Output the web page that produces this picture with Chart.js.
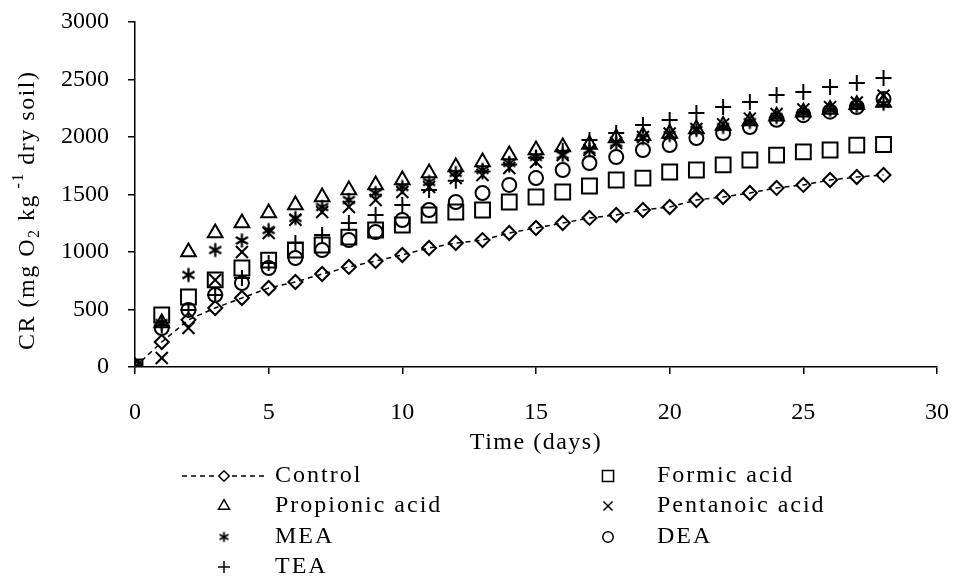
<!DOCTYPE html>
<html>
<head>
<meta charset="utf-8">
<script src="https://cdn.jsdelivr.net/npm/chart.js@4"></script>
<style>
html, body { margin: 0; padding: 0; background: #fff; }
#wrap { width: 954px; height: 583px; }
</style>
</head>
<body>
<div id="wrap"><canvas id="c"></canvas></div>
<script>
// time axis (days)
const days = [0, 1, 2, 3, 4, 5, 6, 7, 8, 9, 10, 11, 12, 13, 14, 15, 16, 17, 18, 19, 20, 21, 22, 23, 24, 25, 26, 27, 28];

// cumulative respiration, mg O2 kg-1 dry soil
const control   = [0, 217, 410, 513, 600, 687, 739, 809, 870, 922, 974, 1035, 1078, 1104, 1165, 1209, 1252, 1296, 1322, 1365, 1391, 1452, 1478, 1513, 1557, 1583, 1626, 1652, 1670];
const formic    = [0, 452, 609, 757, 861, 930, 1017, 1061, 1130, 1191, 1235, 1322, 1348, 1365, 1435, 1478, 1522, 1574, 1626, 1643, 1696, 1713, 1757, 1800, 1843, 1870, 1887, 1930, 1935];
const propionic = [0, 383, 1000, 1165, 1252, 1339, 1409, 1478, 1539, 1583, 1626, 1687, 1739, 1783, 1843, 1887, 1913, 1935, 1991, 2010, 2030, 2070, 2100, 2140, 2180, 2215, 2240, 2280, 2300];
const pentanoic = [0, 78, 339, 757, 1000, 1165, 1280, 1348, 1391, 1452, 1522, 1565, 1643, 1670, 1730, 1783, 1843, 1887, 1948, 2000, 2030, 2070, 2110, 2160, 2200, 2240, 2260, 2300, 2360];
const mea       = [0, 383, 800, 1017, 1100, 1191, 1296, 1391, 1452, 1513, 1565, 1609, 1687, 1713, 1774, 1826, 1843, 1887, 1948, 1990, 2017, 2061, 2087, 2130, 2174, 2209, 2235, 2270, 2290];
const dea       = [0, 339, 496, 626, 730, 861, 948, 1017, 1104, 1174, 1278, 1365, 1435, 1513, 1583, 1643, 1713, 1774, 1826, 1887, 1930, 1991, 2035, 2087, 2150, 2190, 2220, 2260, 2330];
const tea       = [0, 360, 496, 626, 774, 904, 1078, 1148, 1252, 1322, 1409, 1539, 1620, 1700, 1760, 1820, 1880, 1974, 2035, 2104, 2148, 2209, 2261, 2304, 2365, 2391, 2435, 2470, 2513];

const FONT = "'Liberation Serif', 'Times New Roman', serif";
Chart.defaults.font.family = FONT;
Chart.defaults.font.size = 24;
Chart.defaults.color = '#000';

// six-armed asterisk marker (X with a vertical bar)
function asterisk(size, lw) {
  const c = document.createElement('canvas');
  c.width = size; c.height = size;
  const g = c.getContext('2d');
  const m = size / 2, a = size / 2 - lw / 2 - 0.5;
  g.strokeStyle = '#000';
  g.lineWidth = lw;
  g.beginPath();
  g.moveTo(m, m - a); g.lineTo(m, m + a);
  g.moveTo(m - a * 0.87, m - a * 0.5); g.lineTo(m + a * 0.87, m + a * 0.5);
  g.moveTo(m - a * 0.87, m + a * 0.5); g.lineTo(m + a * 0.87, m - a * 0.5);
  g.stroke();
  return c;
}
const meaMark = asterisk(17, 2.2);
const meaLegend = asterisk(13, 1.8);

const pts = arr => days.map((d, i) => ({ x: d, y: arr[i] }));

const series = [
  { label: 'Control',        data: control,   style: 'rectRot',  r: 7,   line: true },
  { label: 'Formic acid',    data: formic,    style: 'rect',     r: 10.5 },
  { label: 'Propionic acid', data: propionic, style: 'triangle', r: 8.5 },
  { label: 'Pentanoic acid', data: pentanoic, style: 'crossRot', r: 8.5 },
  { label: 'MEA',            data: mea,       style: meaMark,    r: 7.5, legendStyle: meaLegend },
  { label: 'DEA',            data: dea,       style: 'circle',   r: 7 },
  { label: 'TEA',            data: tea,       style: 'cross',    r: 8 }
];

const datasets = series.map(s => ({
  label: s.label,
  data: pts(s.data),
  showLine: !!s.line,
  borderColor: '#000',
  borderWidth: 1.5,
  borderDash: s.line ? [5, 4] : [],
  backgroundColor: 'rgba(0,0,0,0)',
  pointStyle: s.style,
  pointRadius: s.r,
  pointBorderWidth: 2,
  pointBorderColor: '#000',
  pointBackgroundColor: 'rgba(0,0,0,0)',
  pointHoverRadius: s.r
}));

// legend: two columns below the axis
const legendLayout = [
  { col: 0, row: 0 }, { col: 1, row: 0 },
  { col: 0, row: 1 }, { col: 1, row: 1 },
  { col: 0, row: 2 }, { col: 1, row: 2 },
  { col: 0, row: 3 }
];

function spacedText(ctx, text, x, y, spacing) {
  ctx.letterSpacing = spacing + 'px';
  ctx.fillText(text, x, y);
  const w = ctx.measureText(text).width;
  ctx.letterSpacing = '0px';
  return w;
}

const extras = {
  id: 'extras',
  afterDraw(chart) {
    const ctx = chart.ctx;
    ctx.save();
    ctx.fillStyle = '#000';
    ctx.strokeStyle = '#000';
    ctx.textBaseline = 'middle';

    // x-axis title
    ctx.font = '24px ' + FONT;
    ctx.textAlign = 'center';
    ctx.letterSpacing = '1.5px';
    ctx.fillText('Time (days)', (chart.chartArea.left + chart.chartArea.right) / 2, 443);
    ctx.letterSpacing = '0px';

    // legend
    const colSym = [224, 608], colText = [275, 657];
    const rowY = [476, 506, 537, 567];
    series.forEach((s, i) => {
      const p = legendLayout[i];
      const sx = colSym[p.col], y = rowY[p.row];
      if (s.line) {
        ctx.save();
        ctx.lineWidth = 1.5;
        ctx.setLineDash([5, 4]);
        ctx.beginPath();
        ctx.moveTo(182, y); ctx.lineTo(216, y);
        ctx.moveTo(232, y); ctx.lineTo(264, y);
        ctx.stroke();
        ctx.restore();
      }
      ctx.lineWidth = 1.5;
      ctx.fillStyle = 'rgba(0,0,0,0)';
      Chart.helpers.drawPoint(ctx, { pointStyle: s.legendStyle || s.style, radius: s.r * 0.75, rotation: 0, borderWidth: 1.5 }, sx, y);
      ctx.fillStyle = '#000';
      ctx.font = '24px ' + FONT;
      ctx.textAlign = 'left';
      spacedText(ctx, s.label, colText[p.col], y, 2);
    });

    // y-axis title with subscript / superscript, rotated
    ctx.translate(28, 350);
    ctx.rotate(-Math.PI / 2);
    ctx.textAlign = 'left';
    const parts = [
      ['CR (mg O', 24, 0], ['2', 16, 7], [' kg', 24, 0], [' -1', 16, -9], [' dry soil)', 24, 0]
    ];
    let x = 0;
    parts.forEach(([t, size, dy]) => {
      ctx.font = size + 'px ' + FONT;
      x += spacedText(ctx, t, x, dy, 1.5);
    });
    ctx.restore();
  }
};

new Chart(document.getElementById('c'), {
  type: 'line',
  data: { datasets },
  options: {
    responsive: true,
    maintainAspectRatio: false,
    animation: false,
    events: [],
    layout: { padding: { top: 22, right: 17, left: 0, bottom: 161 } },
    plugins: { legend: { display: false }, tooltip: { enabled: false } },
    scales: {
      x: {
        type: 'linear', min: 0, max: 30,
        ticks: { stepSize: 5, padding: 24, maxRotation: 0, color: '#000', callback: v => String(v) },
        grid: { drawOnChartArea: false, tickLength: 7, color: '#000', lineWidth: 1.5 },
        border: { color: '#000', width: 1.5 },
        afterFit(s) { s.height = 55; s.paddingLeft = 0; s.paddingRight = 0; }
      },
      y: {
        min: 0, max: 3000,
        ticks: { stepSize: 500, padding: 19, color: '#000', callback: v => String(v) },
        grid: { drawOnChartArea: false, tickLength: 7, color: '#000', lineWidth: 1.5 },
        border: { color: '#000', width: 1.5 },
        afterFit(s) { s.width = 135; s.paddingTop = 0; s.paddingBottom = 0; }
      }
    }
  },
  plugins: [extras]
});
</script>
</body>
</html>
